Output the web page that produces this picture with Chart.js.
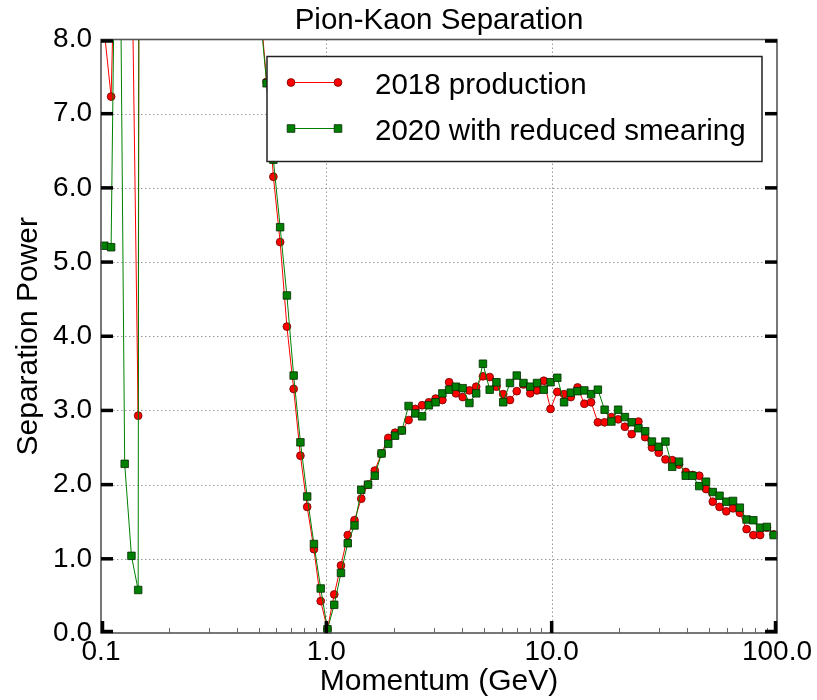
<!DOCTYPE html>
<html><head><meta charset="utf-8">
<script src="https://cdn.jsdelivr.net/npm/chart.js@4.4.1/dist/chart.umd.min.js"></script>
<style>html,body{margin:0;padding:0;background:#fff;}canvas{display:block;}</style>
</head><body>
<canvas id="c" width="817" height="700"></canvas>
<script>
// ---- data ----
const chartTitle = 'Pion-Kaon Separation';
const xTitle = 'Momentum (GeV)';
const yTitle = 'Separation Power';
const seriesNames = ['2018 production', '2020 with reduced smearing'];
const xTickValues = [0.1, 1, 10, 100];
const xTickLabels = ['0.1', '1.0', '10.0', '100.0'];
const yTickValues = [0, 1, 2, 3, 4, 5, 6, 7, 8];

// momentum bin centres (GeV)
const momentum = [
 0.1035,0.1109,0.1189,0.1274,0.1365,0.1462,0.1567,0.1679,0.1799,0.1928,
 0.2065,0.2213,0.2371,0.2541,0.2723,0.2917,0.3126,0.3350,0.3589,0.3846,
 0.4121,0.4416,0.4732,0.5070,0.5433,0.5821,0.6237,0.6683,0.7161,0.7674,
 0.8222,0.8810,0.9441,1.0116,1.0839,1.1614,1.2445,1.3335,1.4289,1.5311,
 1.6406,1.7579,1.8836,2.0184,2.1627,2.3174,2.4831,2.6607,2.8510,3.0549,
 3.2734,3.5075,3.7584,4.0272,4.3152,4.6238,4.9545,5.3088,5.6885,6.0954,
 6.5313,6.9984,7.4989,8.0353,8.6099,9.2257,9.8855,10.592,11.350,12.162,
 13.032,13.964,14.962,16.032,17.179,18.408,19.724,21.135,22.646,24.266,
 26.002,27.861,29.854,31.989,34.277,36.728,39.355,42.170,45.186,48.417,
 51.880,55.590,59.566,63.826,68.391,73.282,78.524,84.140,90.157,96.605
];

const sep2018 = [
 8.1,7.23,11,16,9.6,2.93,60,55,50,45,
 40,36,32,28,25,22,19.5,17,15,13.3,
 11.8,10.6,9.6,8.5,7.43,6.15,5.27,4.13,3.29,2.39,
 1.70,1.13,0.43,0.05,0.52,0.91,1.32,1.52,1.81,2.00,
 2.19,2.42,2.63,2.70,2.73,2.87,3.02,3.07,3.11,3.16,
 3.14,3.38,3.23,3.18,3.27,3.32,3.46,3.45,3.32,3.22,
 3.14,3.26,3.35,3.23,3.27,3.40,3.02,3.25,3.22,3.18,
 3.31,3.09,3.11,2.84,2.84,2.91,2.88,2.78,2.68,2.85,
 2.64,2.50,2.43,2.34,2.33,2.27,2.17,2.13,2.12,1.94,
 1.77,1.70,1.64,1.68,1.62,1.40,1.32,1.32,1.42,1.33
];

const sep2020 = [
 5.22,5.20,13,2.28,1.04,0.58,80,70,62,55,
 48,42,37,32,28,24,21,18.5,16,14,
 12.3,10.8,9.5,8.4,7.41,6.38,5.47,4.55,3.47,2.57,
 1.84,1.20,0.60,0.05,0.38,0.81,1.21,1.45,1.93,2.00,
 2.12,2.42,2.55,2.66,2.73,3.06,2.96,2.92,3.07,3.11,
 3.23,3.28,3.32,3.30,3.10,3.23,3.63,3.28,3.38,3.11,
 3.37,3.47,3.37,3.32,3.37,3.28,3.38,3.44,3.11,3.24,
 3.26,3.27,3.22,3.28,3.01,2.85,3.01,2.91,2.84,2.76,
 2.72,2.58,2.51,2.58,2.24,2.31,2.12,2.12,1.98,2.04,
 1.90,1.85,1.77,1.78,1.69,1.53,1.52,1.42,1.43,1.32
];

// ---- styling ----
const FONT = "'Liberation Sans', Arial, sans-serif";
const FS_TICK = 28, FS_TEXT = 29.5, FS_AXIS = 30;
const RED = '#ff0000', RED_EDGE = '#6a0000';
const GREEN = '#008000', GREEN_EDGE = '#002a00';

const toPoints = (ys) => momentum.map((x, i) => ({x: x, y: ys[i]}));

const frameTicksPlugin = {
  id: 'frameTicks',
  beforeDatasetsDraw(chart) {
    const {ctx, chartArea: a, scales: {x, y}} = chart;
    ctx.save();
    ctx.strokeStyle = '#9a9a9a';
    ctx.lineWidth = 1;
    ctx.setLineDash([1.5, 2.5]);
    yTickValues.forEach(v => {
      const py = Math.round(y.getPixelForValue(v)) + 0.5;
      if (py <= a.top + 1 || py >= a.bottom - 1) return;
      ctx.beginPath(); ctx.moveTo(a.left, py); ctx.lineTo(a.right, py); ctx.stroke();
    });
    xTickValues.forEach(v => {
      const px = Math.round(x.getPixelForValue(v)) + 0.5;
      if (px <= a.left + 1 || px >= a.right - 1) return;
      ctx.beginPath(); ctx.moveTo(px, a.top); ctx.lineTo(px, a.bottom); ctx.stroke();
    });
    ctx.restore();
  },
  afterDatasetsDraw(chart) {
    const {ctx, chartArea: a, scales: {x, y}} = chart;
    ctx.save();
    // frame
    ctx.strokeStyle = '#555';
    ctx.lineWidth = 1.6;
    ctx.strokeRect(a.left, a.top, a.right - a.left, a.bottom - a.top);
    // minor x ticks
    ctx.strokeStyle = '#666';
    ctx.lineWidth = 1;
    for (let d = 0.1; d < 100; d *= 10) {
      for (let k = 2; k <= 9; k++) {
        const px = Math.round(x.getPixelForValue(d * k)) + 0.5;
        ctx.beginPath(); ctx.moveTo(px, a.bottom); ctx.lineTo(px, a.bottom - 5); ctx.stroke();
      }
    }
    // major ticks
    ctx.strokeStyle = '#000';
    ctx.lineWidth = 3.5;
    xTickValues.forEach(v => {
      const px = x.getPixelForValue(v);
      const cx = Math.min(Math.max(px, a.left + 1.5), a.right - 1.5);
      ctx.beginPath(); ctx.moveTo(cx, a.bottom); ctx.lineTo(cx, a.bottom - 12); ctx.stroke();
    });
    yTickValues.forEach(v => {
      const py = y.getPixelForValue(v);
      const cy = Math.min(Math.max(py, a.top + 1.5), a.bottom - 1.5);
      ctx.beginPath(); ctx.moveTo(a.left, cy); ctx.lineTo(a.left + 12, cy); ctx.stroke();
      ctx.beginPath(); ctx.moveTo(a.right, cy); ctx.lineTo(a.right - 12, cy); ctx.stroke();
    });
    ctx.restore();

    // title, centred over the plot area
    ctx.save();
    ctx.fillStyle = '#000';
    ctx.font = FS_TEXT + 'px ' + FONT;
    ctx.textAlign = 'center';
    ctx.textBaseline = 'middle';
    ctx.fillText(chartTitle, (a.left + a.right) / 2, a.top - 19);
    ctx.restore();

    // legend
    const bw = 495, bh = 105;
    const bx = a.right - 15 - bw, by = a.top + 17;
    ctx.save();
    ctx.fillStyle = '#fff';
    ctx.fillRect(bx, by, bw, bh);
    ctx.strokeStyle = '#222';
    ctx.lineWidth = 1.5;
    ctx.strokeRect(bx, by, bw, bh);
    const rows = [
      {y: by + 26, color: RED, edge: RED_EDGE, shape: 'circle'},
      {y: by + 72, color: GREEN, edge: GREEN_EDGE, shape: 'rect'}
    ];
    rows.forEach((r, i) => {
      const x1 = bx + 24, x2 = bx + 71;
      ctx.strokeStyle = r.color; ctx.lineWidth = 1;
      ctx.beginPath(); ctx.moveTo(x1, r.y); ctx.lineTo(x2, r.y); ctx.stroke();
      [x1, x2].forEach(px => {
        ctx.fillStyle = r.color; ctx.strokeStyle = r.edge; ctx.lineWidth = 0.8;
        ctx.beginPath();
        if (r.shape === 'circle') ctx.arc(px, r.y, 3.9, 0, Math.PI * 2);
        else ctx.rect(px - 3.8, r.y - 3.8, 7.6, 7.6);
        ctx.fill(); ctx.stroke();
      });
      ctx.fillStyle = '#000';
      ctx.font = FS_TEXT + 'px ' + FONT;
      ctx.textBaseline = 'middle';
      ctx.textAlign = 'left';
      ctx.fillText(seriesNames[i], bx + 108, r.y + 3);
    });
    ctx.restore();
  }
};

new Chart(document.getElementById('c'), {
  type: 'scatter',
  data: {
    datasets: [
      {
        label: seriesNames[0], data: toPoints(sep2018), showLine: true,
        borderColor: RED, borderWidth: 1, backgroundColor: RED,
        pointStyle: 'circle', pointRadius: 3.9, pointBackgroundColor: RED,
        pointBorderColor: RED_EDGE, pointBorderWidth: 0.8,
        clip: {left: 6, top: 0, right: 6, bottom: 6}, order: 1
      },
      {
        label: seriesNames[1], data: toPoints(sep2020), showLine: true,
        borderColor: GREEN, borderWidth: 1, backgroundColor: GREEN,
        pointStyle: 'rect', pointRadius: 5.3, pointBackgroundColor: GREEN,
        pointBorderColor: GREEN_EDGE, pointBorderWidth: 0.8,
        clip: {left: 6, top: 0, right: 6, bottom: 6}, order: 0
      }
    ]
  },
  options: {
    responsive: false,
    animation: false,
    devicePixelRatio: 1,
    layout: {padding: {left: 0, right: 40, top: 39.5, bottom: 0}},
    plugins: {
      legend: {display: false},
      tooltip: {enabled: false},
      title: {display: false}
    },
    scales: {
      x: {
        type: 'logarithmic', min: 0.1, max: 100,
        afterBuildTicks: (s) => { s.ticks = xTickValues.map(v => ({value: v})); },
        afterFit: (s) => { s.height = 67; },
        grid: {display: false, drawTicks: false},
        border: {display: false},
        ticks: {
          color: '#000', font: {family: FONT, size: FS_TICK}, padding: 2,
          autoSkip: false, maxRotation: 0,
          callback: (v, i) => xTickLabels[i]
        },
        title: {display: true, text: xTitle, color: '#000',
          font: {family: FONT, size: FS_AXIS, lineHeight: 1.2}, padding: {top: 0, bottom: 0}}
      },
      y: {
        min: 0, max: 8,
        afterBuildTicks: (s) => { s.ticks = yTickValues.map(v => ({value: v})); },
        afterFit: (s) => { s.width = 101; },
        grid: {display: false, drawTicks: false},
        border: {display: false},
        ticks: {
          color: '#000', font: {family: FONT, size: FS_TICK}, padding: 9,
          callback: (v) => Number(v).toFixed(1)
        },
        title: {display: true, text: yTitle, color: '#000',
          font: {family: FONT, size: FS_AXIS, lineHeight: 1.2}, padding: {top: 11, bottom: 0}}
      }
    }
  },
  plugins: [frameTicksPlugin]
});
</script>
</body></html>
